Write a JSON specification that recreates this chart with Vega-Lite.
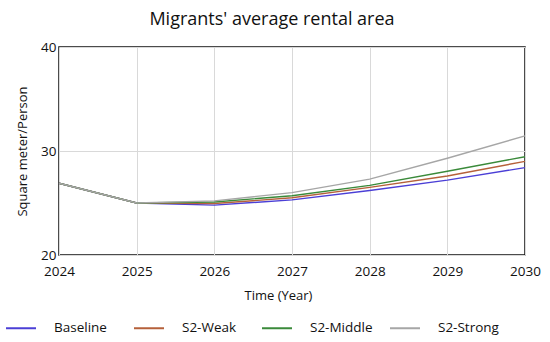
{
  "$schema": "https://vega.github.io/schema/vega-lite/v6.json",
  "width": 466,
  "height": 208,
  "autosize": {"type": "none"},
  "padding": {"left": 59, "top": 47, "right": 25, "bottom": 87},
  "background": "white",
  "title": {"text": "Migrants' average rental area", "font": "Open Sans", "fontSize": 18, "fontWeight": "normal", "color": "#111", "offset": 11, "dx": -20},
  "config": {
    "font": "Open Sans",
    "view": {"stroke": "#111", "strokeWidth": 1.5},
    "axis": {"labelFont": "Open Sans", "titleFont": "Open Sans", "labelFontSize": 13.5, "titleFontSize": 13, "titleFontWeight": "normal", "labelColor": "#111", "titleColor": "#111", "gridColor": "#d9d9d9", "domain": false, "ticks": false}
  },
  "data": {"values": [
    {"year": 2024, "s": "Baseline", "v": 26.9},
    {"year": 2025, "s": "Baseline", "v": 25.0},
    {"year": 2026, "s": "Baseline", "v": 24.8},
    {"year": 2027, "s": "Baseline", "v": 25.3},
    {"year": 2028, "s": "Baseline", "v": 26.2},
    {"year": 2029, "s": "Baseline", "v": 27.2},
    {"year": 2030, "s": "Baseline", "v": 28.4},
    {"year": 2024, "s": "S2-Weak", "v": 26.9},
    {"year": 2025, "s": "S2-Weak", "v": 25.0},
    {"year": 2026, "s": "S2-Weak", "v": 24.95},
    {"year": 2027, "s": "S2-Weak", "v": 25.5},
    {"year": 2028, "s": "S2-Weak", "v": 26.5},
    {"year": 2029, "s": "S2-Weak", "v": 27.6},
    {"year": 2030, "s": "S2-Weak", "v": 29.0},
    {"year": 2024, "s": "S2-Middle", "v": 26.9},
    {"year": 2025, "s": "S2-Middle", "v": 25.0},
    {"year": 2026, "s": "S2-Middle", "v": 25.1},
    {"year": 2027, "s": "S2-Middle", "v": 25.7},
    {"year": 2028, "s": "S2-Middle", "v": 26.7},
    {"year": 2029, "s": "S2-Middle", "v": 28.05},
    {"year": 2030, "s": "S2-Middle", "v": 29.45},
    {"year": 2024, "s": "S2-Strong", "v": 26.9},
    {"year": 2025, "s": "S2-Strong", "v": 25.0},
    {"year": 2026, "s": "S2-Strong", "v": 25.2},
    {"year": 2027, "s": "S2-Strong", "v": 26.0},
    {"year": 2028, "s": "S2-Strong", "v": 27.3},
    {"year": 2029, "s": "S2-Strong", "v": 29.3},
    {"year": 2030, "s": "S2-Strong", "v": 31.45}
  ]},
  "mark": {"type": "line", "strokeWidth": 1.4},
  "encoding": {
    "x": {"field": "year", "type": "quantitative", "scale": {"domain": [2024, 2030], "nice": false, "zero": false},
      "axis": {"title": "Time (Year)", "format": "d", "values": [2024, 2025, 2026, 2027, 2028, 2029, 2030], "labelPadding": 9, "titleX": 219, "titlePadding": 12, "labelFlush": false}},
    "y": {"field": "v", "type": "quantitative", "scale": {"domain": [20, 40], "nice": false, "zero": false},
      "axis": {"title": "Square meter/Person", "values": [20, 30, 40], "labelPadding": 3, "titlePadding": 11}},
    "color": {"field": "s", "type": "nominal",
      "scale": {"domain": ["Baseline", "S2-Weak", "S2-Middle", "S2-Strong"], "range": ["#4b3fd6", "#b5603a", "#3a8a3a", "#a6a6a6"]},
      "legend": {"title": null, "orient": "none", "legendX": -54, "legendY": 265, "direction": "horizontal", "gridAlign": "all", "symbolType": "stroke", "symbolSize": 900, "symbolStrokeWidth": 2, "labelFontSize": 13.5, "labelFont": "Open Sans", "labelColor": "#111", "labelOffset": 17, "columnPadding": 13}
    }
  }
}
